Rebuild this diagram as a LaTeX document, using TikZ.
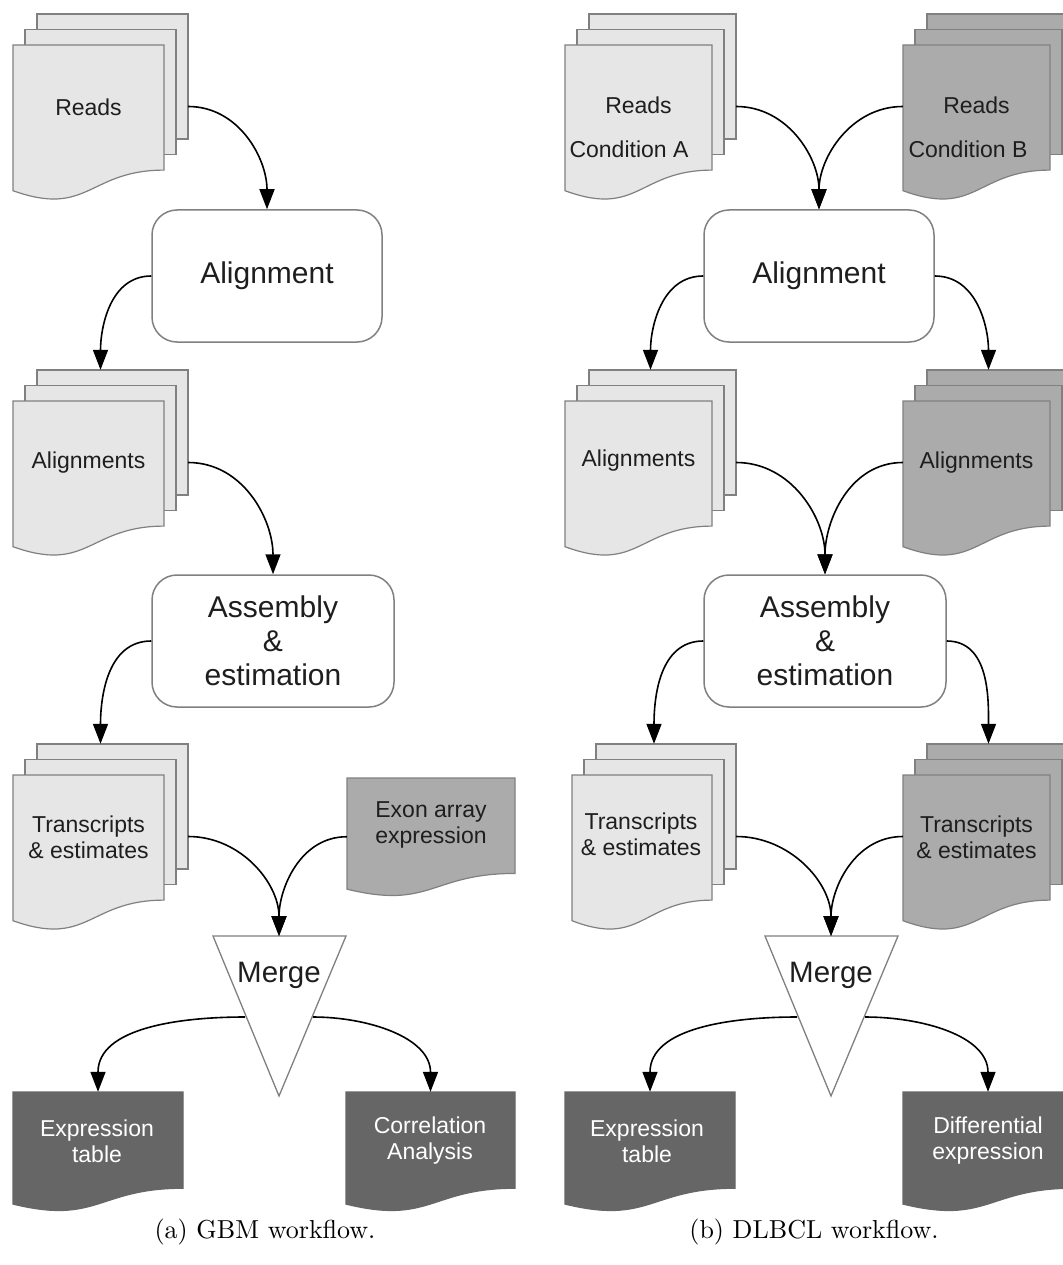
\documentclass[tikz,border=0pt]{standalone}
\usepackage{fontspec}
\newfontfamily\lsans{Liberation Sans}
\newfontfamily\capfont{lmroman10-regular.otf}
\usetikzlibrary{arrows.meta}
\definecolor{lightfill}{HTML}{E6E6E6}
\definecolor{midfill}{HTML}{ABABAB}
\definecolor{darkfill}{HTML}{666666}
\definecolor{edgegray}{HTML}{808080}
\definecolor{txt}{HTML}{1E1E1E}

% single document sheet: x, y (top-left), w, h, style
\newcommand{\docshape}[5]{%
  \path[#5] (#1,#2) -- ({#1+#3},#2) -- ({#1+#3},{#2+0.802*#4})
    .. controls ({#1+0.5*#3},{#2+0.802*#4}) and ({#1+0.5*#3},{#2+1.1075*#4}) ..
    (#1,{#2+0.934*#4}) -- cycle;}

% stacked documents: name, x, y (front top-left), w, fill
\newcommand{\multidoc}[5]{%
  \path[sheet,fill=#5] ({#2+24},{#3-31}) rectangle ++(#4,125);
  \path[sheet,fill=#5] ({#2+12},{#3-15.5}) rectangle ++(#4,125);
  \docshape{#2}{#3}{#4}{156}{sheet,fill=#5}
  \pgfmathsetmacro\mdw{#4+24}
  \node[inner sep=0pt, minimum width=\mdw pt, minimum height=185pt] (#1)
    at ({#2+12+#4/2},{#3+61.5}) {};}

% single document: name, x, y, w, h, style
\newcommand{\singledoc}[6]{%
  \docshape{#2}{#3}{#4}{#5}{#6}
  \pgfmathsetmacro\sdh{0.987*#5}
  \node[inner sep=0pt, minimum width=#4 pt, minimum height=\sdh pt] (#1)
    at ({#2+#4/2},{#3+0.4935*#5}) {};}

\tikzset{
  conn/.style={line width=1.6pt, -{Triangle[width=15pt,length=20pt]}},
  sheet/.style={draw=edgegray, line width=1.2pt},
  darksheet/.style={draw=darkfill, fill=darkfill, line width=1.2pt},
  rbox/.style={draw=edgegray, line width=1.5pt, fill=white, rounded corners=25pt,
    inner sep=0pt, font=\lsans\fontsize{30}{34}\selectfont, align=center, text=txt},
  lbl/.style={font=\lsans\fontsize{23}{26}\selectfont, align=center, text=txt, inner sep=0pt},
  wlbl/.style={lbl, text=white},
  bigl/.style={font=\lsans\fontsize{29.5}{34}\selectfont, text=txt, inner sep=0pt},
  captext/.style={font=\capfont\fontsize{26}{30}\selectfont, inner sep=0pt},
  tri/.style={draw=edgegray, line width=1.3pt, fill=white},
}

\begin{document}
\begin{tikzpicture}[x=1pt,y=-1pt]
\useasboundingbox[fill=white] (0,0) rectangle (1062,1265);

% ---------------- (a) GBM workflow ----------------
\multidoc{readsL}{13}{45}{151}{lightfill}
\node[lbl] (readsLt) at (88.5,107) {Reads};

\node[rbox, minimum width=230pt, minimum height=132pt] (alignL) at (267,276) {Alignment};

\multidoc{alnsL}{13}{401}{151}{lightfill}
\node[lbl] (alnsLt) at (88.5,463) {Alignments};

\node[rbox, minimum width=242pt, minimum height=132pt] (asmL) at (273,641) {Assembly\\\&\\estimation};

\multidoc{transL}{13}{775}{151}{lightfill}
\node[lbl] (transLt) at (88.5,837) {Transcripts\\\& estimates};

\singledoc{exon}{347}{778}{168}{119}{sheet,fill=midfill}
\node[lbl] (exont) at (431,825) {Exon array\\expression};

\path[tri] (213,936) -- (346,936) -- (279,1096) -- cycle;
\coordinate (mergeLtop) at (279,936);
\coordinate (mergeLl) at (245,1017);
\coordinate (mergeLr) at (313,1017);
\node[bigl] (mergeLt) at (279,975) {Merge};

\singledoc{exprL}{13}{1092}{170}{120}{darksheet}
\node[wlbl] (exprLt) at (97,1141) {Expression\\table};
\singledoc{corrL}{346}{1092}{169}{120}{darksheet}
\node[wlbl] (corrLt) at (430,1141) {Correlation\\Analysis};

\draw[conn] (readsL.east) to[out=0,in=90] (alignL.north);
\draw[conn] (alignL.west) to[out=180,in=90] (alnsL.north);
\draw[conn] (alnsL.east) to[out=0,in=90] (asmL.north);
\draw[conn] (asmL.west) to[out=180,in=90] (transL.north);
\draw[conn] (transL.east) to[out=0,in=90] (mergeLtop);
\draw[conn] (exon.west) to[out=180,in=90] (mergeLtop);
\draw[conn] (mergeLl) to[out=180,in=90] (exprL.north);
\draw[conn] (mergeLr) to[out=0,in=90] (corrL.north);

\node[captext] (capa) at (265,1232) {(a)\ GBM workflow.};

% ---------------- (b) DLBCL workflow ----------------
\multidoc{condA}{565}{45}{147}{lightfill}
\node[lbl] (condAt1) at (638.5,105) {Reads};
\node[lbl] (condAt2) at (629,149) {Condition A};
\multidoc{condB}{903}{45}{147}{midfill}
\node[lbl] (condBt1) at (976.5,105) {Reads};
\node[lbl] (condBt2) at (968,149) {Condition B};

\node[rbox, minimum width=230pt, minimum height=132pt] (alignR) at (819,276) {Alignment};

\multidoc{alnsA}{565}{401}{147}{lightfill}
\node[lbl] (alnsAt) at (638.5,461) {Alignments};
\multidoc{alnsB}{903}{401}{147}{midfill}
\node[lbl] (alnsBt) at (976.5,463) {Alignments};

\node[rbox, minimum width=242pt, minimum height=132pt] (asmR) at (825,641) {Assembly\\\&\\estimation};

\multidoc{transA}{572}{775}{140}{lightfill}
\node[lbl] (transAt) at (641,834) {Transcripts\\\& estimates};
\multidoc{transB}{903}{775}{147}{midfill}
\node[lbl] (transBt) at (976.5,837) {Transcripts\\\& estimates};

\path[tri] (765,936) -- (898,936) -- (831,1096) -- cycle;
\coordinate (mergeRtop) at (831,936);
\coordinate (mergeRl) at (797,1017);
\coordinate (mergeRr) at (865,1017);
\node[bigl] (mergeRt) at (831,975) {Merge};

\singledoc{exprR}{565}{1092}{170}{120}{darksheet}
\node[wlbl] (exprRt) at (647,1141) {Expression\\table};
\singledoc{diffR}{903}{1092}{170}{120}{darksheet}
\node[wlbl] (diffRt) at (988,1141) {Differential\\expression};

\draw[conn] (condA.east) to[out=0,in=90] (alignR.north);
\draw[conn] (condB.west) to[out=180,in=90] (alignR.north);
\draw[conn] (alignR.west) to[out=180,in=90] (alnsA.north);
\draw[conn] (alignR.east) to[out=0,in=90] (alnsB.north);
\draw[conn] (alnsA.east) to[out=0,in=90] (asmR.north);
\draw[conn] (alnsB.west) to[out=180,in=90] (asmR.north);
\draw[conn] (asmR.west) to[out=180,in=90] (transA.north);
\draw[conn] (asmR.east) to[out=0,in=90] (transB.north);
\draw[conn] (transA.east) to[out=0,in=90] (mergeRtop);
\draw[conn] (transB.west) to[out=180,in=90] (mergeRtop);
\draw[conn] (mergeRl) to[out=180,in=90] (exprR.north);
\draw[conn] (mergeRr) to[out=0,in=90] (diffR.north);

\node[captext] (capb) at (814,1232) {(b)\ DLBCL workflow.};
\end{tikzpicture}
\end{document}
